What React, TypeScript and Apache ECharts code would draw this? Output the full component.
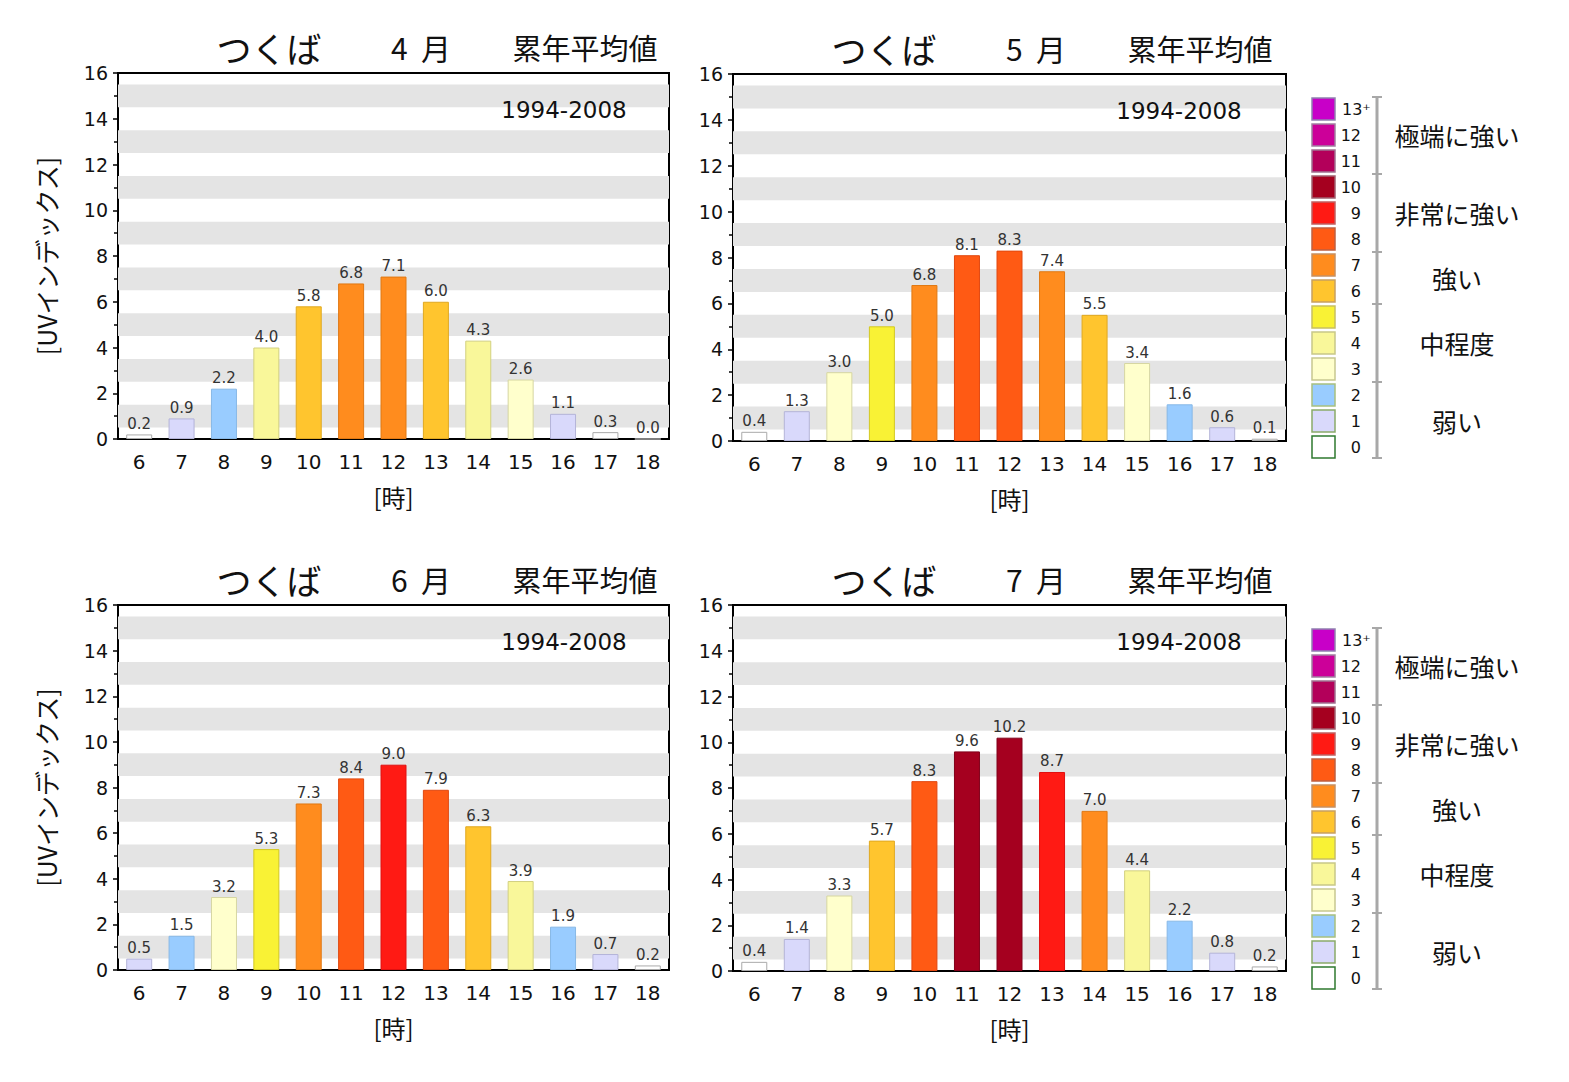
import React, { useEffect, useRef } from "react";
import * as echarts from "echarts";

// ---------- data ----------
const hours = ["6", "7", "8", "9", "10", "11", "12", "13", "14", "15", "16", "17", "18"];
const aprilUV = [0.2, 0.9, 2.2, 4.0, 5.8, 6.8, 7.1, 6.0, 4.3, 2.6, 1.1, 0.3, 0.0];
const mayUV = [0.4, 1.3, 3.0, 5.0, 6.8, 8.1, 8.3, 7.4, 5.5, 3.4, 1.6, 0.6, 0.1];
const juneUV = [0.5, 1.5, 3.2, 5.3, 7.3, 8.4, 9.0, 7.9, 6.3, 3.9, 1.9, 0.7, 0.2];
const julyUV = [0.4, 1.4, 3.3, 5.7, 8.3, 9.6, 10.2, 8.7, 7.0, 4.4, 2.2, 0.8, 0.2];
const months = ["4", "5", "6", "7"];
const station = "つくば";
const titleSuffix = "累年平均値";
const period = "1994-2008";
const yTicks = [0, 16];

// UV index colour scale (index 0..13)
const uvLevels = ["0", "1", "2", "3", "4", "5", "6", "7", "8", "9", "10", "11", "12", "13⁺"];
const uvFill = [
  "#ffffff", "#d9d9fb", "#99ccff", "#ffffcc", "#f9f79a", "#f9f235", "#ffc52e",
  "#ff8c1e", "#ff5a14", "#ff1a14", "#a5001f", "#b3005a", "#cc0099", "#c800c8",
];
const uvBarBorder = [
  "#aaaaaa", "#b4b4d8", "#88b8e6", "#d6d6a2", "#d2d080", "#d2c820", "#e0a820",
  "#e07812", "#e04810", "#e01010", "#80001a", "#900048", "#a80080", "#a000a0",
];
const uvSwatchBorder = [
  "#2f7a2f", "#8aaa6a", "#a8c080", "#c8c890", "#c8c888", "#c8c060", "#c8a060",
  "#c89060", "#c06040", "#c06060", "#a06070", "#a07090", "#a080a0", "#9080b0",
];
const uvGroups = [
  { label: "極端に強い", from: 11, to: 13 },
  { label: "非常に強い", from: 8, to: 10 },
  { label: "強い", from: 6, to: 7 },
  { label: "中程度", from: 3, to: 5 },
  { label: "弱い", from: 0, to: 2 },
];

const NUM = "'DejaVu Sans', 'Liberation Sans', sans-serif";
const JP = "'Noto Sans CJK JP', sans-serif";

const panelData = [aprilUV, mayUV, juneUV, julyUV];
const panels = [
  { left: 118, top: 73, width: 551, height: 366 },
  { left: 733, top: 74, width: 553, height: 367 },
  { left: 118, top: 605, width: 551, height: 365 },
  { left: 733, top: 605, width: 553, height: 366 },
];

const bands: any[] = [];
for (let k = 1; k < 16; k += 2) bands.push([{ yAxis: k - 0.5 }, { yAxis: k + 0.5 }]);

function buildOption() {
  const grid: any[] = [];
  const xAxis: any[] = [];
  const yAxis: any[] = [];
  const series: any[] = [];
  const graphic: any[] = [];

  panels.forEach((p, i) => {
    grid.push({
      left: p.left,
      top: p.top,
      width: p.width,
      height: p.height,
      show: true,
      borderColor: "#000",
      borderWidth: 2,
      backgroundColor: "#fff",
    });
    xAxis.push({
      type: "category",
      gridIndex: i,
      data: hours,
      axisTick: { show: false },
      axisLine: { lineStyle: { color: "#000", width: 2 } },
      axisLabel: { fontSize: 20, color: "#111", fontFamily: NUM, margin: 13 },
      name: "[時]",
      nameLocation: "middle",
      nameGap: 45,
      nameTextStyle: { fontSize: 24, color: "#111", fontFamily: JP },
    });
    yAxis.push({
      type: "value",
      gridIndex: i,
      min: yTicks[0],
      max: yTicks[1],
      interval: 2,
      splitLine: { show: false },
      axisLine: { show: true, lineStyle: { color: "#000", width: 2 } },
      axisTick: { show: true, inside: false, length: 5, lineStyle: { color: "#000", width: 1.5 } },
      minorTick: { show: true, splitNumber: 2, length: 4, lineStyle: { color: "#000", width: 1.5 } },
      axisLabel: { fontSize: 19, color: "#111", fontFamily: NUM, margin: 10 },
      name: i % 2 === 0 ? "[UVインデックス]" : "",
      nameLocation: "middle",
      nameRotate: 90,
      nameGap: 60,
      nameTextStyle: { fontSize: 25, color: "#111", fontFamily: JP },
    });
    series.push({
      type: "line",
      xAxisIndex: i,
      yAxisIndex: i,
      data: panelData[i],
      symbol: "none",
      lineStyle: { opacity: 0 },
      silent: true,
      z: 1,
      markArea: {
        silent: true,
        itemStyle: { color: "#e4e4e4" },
        data: bands,
      },
    });
    series.push({
      type: "bar",
      xAxisIndex: i,
      yAxisIndex: i,
      z: 3,
      barWidth: 26,
      data: panelData[i].map((v) => {
        const lv = Math.min(13, Math.round(v));
        return {
          value: v,
          itemStyle: { color: uvFill[lv], borderColor: uvBarBorder[lv], borderWidth: 1 },
        };
      }),
      label: {
        show: true,
        position: "top",
        distance: 3,
        formatter: (prm: any) => Number(prm.value).toFixed(1),
        fontSize: 15,
        color: "#333",
        fontFamily: NUM,
      },
    });

    // titles
    const ty = p.top - 26;
    graphic.push({
      type: "text",
      x: p.left + 151,
      y: ty,
      style: { text: station, fontSize: 35, fontFamily: JP, fill: "#111", textAlign: "center", textVerticalAlign: "middle" },
    });
    graphic.push({
      type: "text",
      x: p.left + 303,
      y: ty,
      style: { text: months[i] + "  月", fontSize: 30, fontFamily: JP, fill: "#111", textAlign: "center", textVerticalAlign: "middle" },
    });
    graphic.push({
      type: "text",
      x: p.left + 467,
      y: ty,
      style: { text: titleSuffix, fontSize: 29, fontFamily: JP, fill: "#111", textAlign: "center", textVerticalAlign: "middle" },
    });
    graphic.push({
      type: "text",
      x: p.left + 446,
      y: p.top + 37,
      z: 10,
      style: { text: period, fontSize: 23, fontFamily: NUM, fill: "#111", textAlign: "center", textVerticalAlign: "middle" },
    });
  });

  // legends (one per row)
  [98, 629].forEach((y0) => {
    const step = 26;
    const sx = 1312;
    const rowY = (lv: number) => y0 + (13 - lv) * step;
    for (let lv = 13; lv >= 0; lv--) {
      const yy = rowY(lv);
      graphic.push({
        type: "rect",
        shape: { x: sx, y: yy, width: 23, height: 22 },
        style: { fill: uvFill[lv], stroke: uvSwatchBorder[lv], lineWidth: 1.5 },
      });
      const isTop = lv === 13;
      graphic.push({
        type: "text",
        x: isTop ? 1342 : 1361,
        y: yy + 11,
        style: {
          text: uvLevels[lv],
          fontSize: 16,
          fontFamily: NUM,
          fill: "#111",
          textAlign: isTop ? "left" : "right",
          textVerticalAlign: "middle",
        },
      });
    }
    const lx = 1377;
    const top = y0 - 1;
    const bottom = rowY(0) + 22;
    graphic.push({
      type: "line",
      shape: { x1: lx, y1: top, x2: lx, y2: bottom },
      style: { stroke: "#a8a8a8", lineWidth: 3 },
    });
    const caps = [top, bottom];
    uvGroups.forEach((g) => {
      if (g.from > 0) caps.push(rowY(g.from) + 22 + 2);
    });
    caps.forEach((cy) => {
      graphic.push({
        type: "line",
        shape: { x1: lx - 5, y1: cy, x2: lx + 5, y2: cy },
        style: { stroke: "#a8a8a8", lineWidth: 2 },
      });
    });
    uvGroups.forEach((g) => {
      const cy = (rowY(g.to) + rowY(g.from) + 22) / 2;
      graphic.push({
        type: "text",
        x: 1457,
        y: cy,
        style: { text: g.label, fontSize: 25, fontFamily: JP, fill: "#111", textAlign: "center", textVerticalAlign: "middle" },
      });
    });
  });

  return {
    animation: false,
    backgroundColor: "#fff",
    grid,
    xAxis,
    yAxis,
    series,
    graphic,
  };
}

export default function App() {
  const ref = useRef<HTMLDivElement>(null);
  useEffect(() => {
    if (!ref.current) return;
    const chart = echarts.init(ref.current, null, { renderer: "svg" });
    chart.setOption(buildOption() as any);
    return () => chart.dispose();
  }, []);
  return (
    <div
      ref={ref}
      style={{ position: "absolute", left: 0, top: 0, width: 1569, height: 1082, background: "#fff" }}
    />
  );
}
